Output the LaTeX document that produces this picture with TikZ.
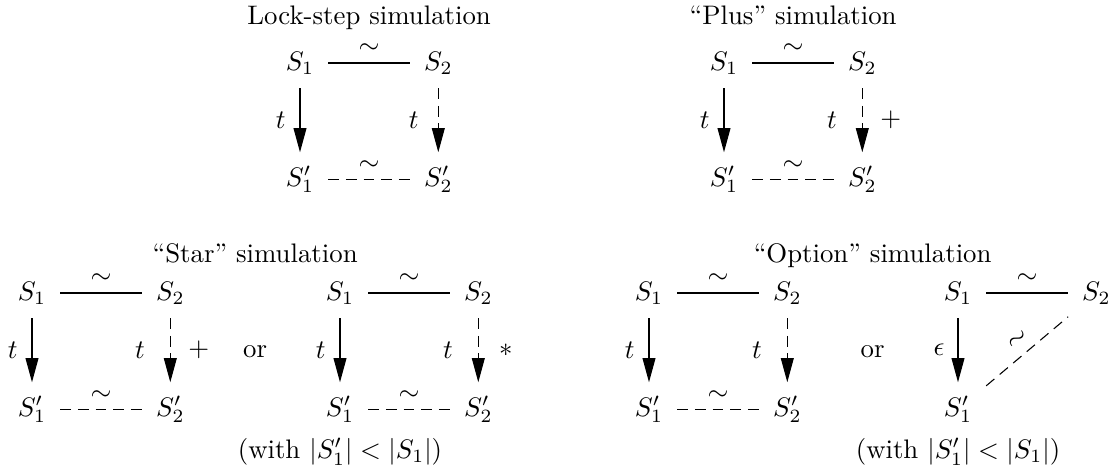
\documentclass[tikz,border=0pt]{standalone}
\usetikzlibrary{arrows.meta,positioning,calc}

\begin{document}
\begin{tikzpicture}[
    x=0.3731pt, y=0.3731pt,
    node distance=43.5pt and 51.6pt, on grid,
    statenode/.style={inner sep=5pt},
    titletext/.style={anchor=base},
    simdash/.style={dash pattern=on 4pt off 2.6pt},
    transarrow/.style={-{Triangle[length=9pt,width=4.8pt]}},
    simarrow/.style={transarrow, simdash},
    simline/.style={simdash},
    lefttlabel/.style={left, xshift=-1.9pt},
    righttlabel/.style={left, xshift=-6pt},
]
\useasboundingbox (0,0) rectangle (1111,470);

% Lock-step simulation
\node[statenode] (a1) at (300,407) {$S_1$};
\node[statenode, right=of a1] (a2) {$S_2$};
\node[statenode, below=of a1] (a3) {$S_1'$};
\node[statenode, below=of a2] (a4) {$S_2'$};
\node[titletext] (atitle) at ($(a1)!0.5!(a2)+(0,38)$) {Lock-step simulation};
\draw (a1) -- node[above] {$\sim$} (a2);
\draw[transarrow] (a1) -- node[lefttlabel] {$t$} (a3);
\draw[simarrow] (a2) -- node[left, xshift=-3.8pt] {$t$} (a4);
\draw[simline] (a3) -- node[above] {$\sim$} (a4);

% "Plus" simulation
\node[statenode] (b1) at (724,407) {$S_1$};
\node[statenode, right=of b1] (b2) {$S_2$};
\node[statenode, below=of b1] (b3) {$S_1'$};
\node[statenode, below=of b2] (b4) {$S_2'$};
\node[titletext] (btitle) at ($(b1)!0.5!(b2)+(0,38)$) {``Plus'' simulation};
\draw (b1) -- node[above] {$\sim$} (b2);
\draw[transarrow] (b1) -- node[lefttlabel] {$t$} (b3);
\draw[simarrow] (b2) -- node[righttlabel] {$t$} node[right, xshift=3.2pt] {$+$} (b4);
\draw[simline] (b3) -- node[above] {$\sim$} (b4);

% "Star" simulation, first case
\node[statenode] (c1) at (32,177) {$S_1$};
\node[statenode, right=of c1] (c2) {$S_2$};
\node[statenode, below=of c1] (c3) {$S_1'$};
\node[statenode, below=of c2] (c4) {$S_2'$};
\draw (c1) -- node[above] {$\sim$} (c2);
\draw[transarrow] (c1) -- node[lefttlabel] {$t$} (c3);
\draw[simarrow] (c2) -- node[righttlabel] {$t$} node[right, xshift=3.2pt] {$+$} (c4);
\draw[simline] (c3) -- node[above] {$\sim$} (c4);

% "Star" simulation, second case
\node[statenode] (d1) at (340,177) {$S_1$};
\node[statenode, right=of d1] (d2) {$S_2$};
\node[statenode, below=of d1] (d3) {$S_1'$};
\node[statenode, below=of d2] (d4) {$S_2'$};
\draw (d1) -- node[above] {$\sim$} (d2);
\draw[transarrow] (d1) -- node[lefttlabel] {$t$} (d3);
\draw[simarrow] (d2) -- node[righttlabel] {$t$} node[right, xshift=4.2pt] {$*$} (d4);
\draw[simline] (d3) -- node[above] {$\sim$} (d4);
\node[below=15.7pt of d3] (dnote) {(with $|S_1'| < |S_1|$)};

\node (cor) at ($(c2)!0.5!(d3)$) {or};
\node[titletext] (ctitle) at ($(c1)!0.5!(d2)+(0,30)$) {``Star'' simulation};

% "Option" simulation, first case
\node[statenode] (e1) at (649,177) {$S_1$};
\node[statenode, right=of e1] (e2) {$S_2$};
\node[statenode, below=of e1] (e3) {$S_1'$};
\node[statenode, below=of e2] (e4) {$S_2'$};
\draw (e1) -- node[above] {$\sim$} (e2);
\draw[transarrow] (e1) -- node[lefttlabel] {$t$} (e3);
\draw[simarrow] (e2) -- node[righttlabel] {$t$} (e4);
\draw[simline] (e3) -- node[above] {$\sim$} (e4);

% "Option" simulation, second case
\node[statenode] (f1) at (958,177) {$S_1$};
\node[statenode, right=of f1] (f2) {$S_2$};
\node[statenode, below=of f1] (f3) {$S_1'$};
\draw (f1) -- node[above] {$\sim$} (f2);
\draw[transarrow] (f1) -- node[left, xshift=-1.5pt] {$\epsilon$} (f3);
\draw[simline] (f3) -- node[above, sloped] {$\sim$} (f2);
\node[below=15.7pt of f3] (fnote) {(with $|S_1'| < |S_1|$)};

\node (eor) at ($(e2)!0.5!(f3)$) {or};
\node[titletext] (etitle) at ($(e1)!0.5!(f2)+(0,30)$) {``Option'' simulation};

\end{tikzpicture}
\end{document}
